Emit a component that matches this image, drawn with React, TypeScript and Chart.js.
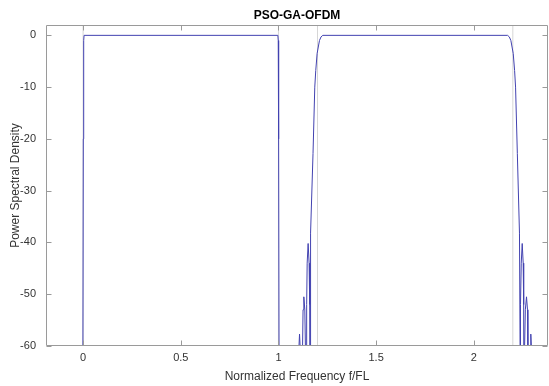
import { useEffect, useRef } from "react";
import { Chart, registerables } from "chart.js";

Chart.register(...registerables);

const chartTitle = "PSO-GA-OFDM";
const xAxisLabel = "Normalized Frequency f/FL";
const yAxisLabel = "Power Spectral Density";
const xTickValues = [0, 0.5, 1, 1.5, 2];
const yTickValues = [-60, -50, -40, -30, -20, -10, 0];
const markerFreqs = [0, 1, 1.2, 2.2];

// Normalized frequency (f/FL) of the PSD trace
const psdFreq = [
  -0.19, -0.003, 0.001, 0.003, 0.005, 0.997, 0.999, 1.001, 1.005,
  1.1, 1.102, 1.104, 1.108, 1.112, 1.115, 1.118,
  1.121, 1.1235, 1.126, 1.13, 1.135, 1.138, 1.141,
  1.142, 1.1445, 1.147, 1.152, 1.157, 1.16, 1.162,
  1.163, 1.166, 1.177, 1.186, 1.191, 1.198, 1.21, 1.218, 1.227,
  2.173, 2.182, 2.19, 2.202, 2.209, 2.214, 2.223, 2.234, 2.237,
  2.238, 2.2405, 2.243, 2.248, 2.253, 2.2555, 2.258,
  2.259, 2.2615, 2.264, 2.27, 2.275, 2.277, 2.279,
  2.282, 2.285, 2.288, 2.292, 2.296, 2.298, 2.3,
  2.38,
];
// PSD in dB
const psdDb = [
  -100, -100, -20, -1, 0, 0, -1, -20, -100,
  -100, -68, -61, -57.7, -61, -68, -100,
  -100, -60, -53, -50.5, -53, -60, -100,
  -100, -52, -44, -40.2, -44, -52, -100,
  -60, -38.2, -22.8, -10, -6.8, -3.5, -1.0, -0.3, 0,
  0, -0.3, -1.0, -3.5, -6.8, -10, -22.8, -38.2, -60,
  -100, -52, -44, -40.2, -44, -52, -100,
  -100, -60, -53, -50.5, -53, -60, -100,
  -100, -68, -61, -57.7, -61, -68, -100,
  -100,
];

const FONT = "'Liberation Sans', Arial, Helvetica, sans-serif";

const inwardTicks = {
  id: "inwardTicks",
  afterDatasetsDraw(chart: any) {
    const { ctx, chartArea: a, scales } = chart;
    ctx.save();
    ctx.strokeStyle = "#9a9a9a";
    ctx.lineWidth = 1;
    const L = Math.round(a.left) + 0.5;
    const R = Math.round(a.right) - 0.5;
    const T = Math.round(a.top) + 0.5;
    const B = Math.round(a.bottom) - 0.5;
    ctx.beginPath();
    ctx.rect(L, T, R - L, B - T);
    for (const v of xTickValues) {
      const px = Math.round(scales.x.getPixelForValue(v)) + 0.5;
      ctx.moveTo(px, B);
      ctx.lineTo(px, B - 5);
      ctx.moveTo(px, T);
      ctx.lineTo(px, T + 5);
    }
    for (const v of yTickValues) {
      const py = Math.round(scales.y.getPixelForValue(v)) + 0.5;
      ctx.moveTo(L, py);
      ctx.lineTo(L + 5, py);
      ctx.moveTo(R, py);
      ctx.lineTo(R - 5, py);
    }
    ctx.stroke();
    ctx.restore();
  },
};

export default function App() {
  const canvasRef = useRef<HTMLCanvasElement | null>(null);

  useEffect(() => {
    document.body.style.margin = "0";
    const canvas = canvasRef.current;
    if (!canvas) return;

    const psdPoints = psdFreq.map((f, i) => ({ x: f, y: psdDb[i] }));
    const markerSets = markerFreqs.map((f) => ({
      data: [
        { x: f, y: -60 },
        { x: f, y: 2 },
      ],
      borderColor: "#d6d6d6",
      borderWidth: 1,
      pointRadius: 0,
      tension: 0,
    }));

    const chart = new Chart(canvas, {
      type: "line",
      data: {
        datasets: [
          {
            data: psdPoints,
            borderColor: "#4242b0",
            borderWidth: 1,
            pointRadius: 0,
            tension: 0,
          },
          ...markerSets,
        ],
      },
      options: {
        responsive: false,
        animation: false,
        layout: { padding: { right: 1, left: 0, top: 0, bottom: 0 } },
        plugins: {
          legend: { display: false },
          tooltip: { enabled: false },
          title: {
            display: true,
            text: chartTitle,
            fullSize: false,
            color: "#000000",
            font: { family: FONT, size: 12, weight: "bold" },
            padding: { top: 8, bottom: 2.6 },
          },
        },
        scales: {
          x: {
            type: "linear",
            min: -0.19,
            max: 2.38,
            grid: { display: false, drawTicks: false },
            border: { display: false },
            afterBuildTicks: (axis: any) => {
              axis.ticks = xTickValues.map((v) => ({ value: v }));
            },
            afterFit: (scale: any) => {
              scale.height = 40;
            },
            ticks: {
              color: "#333333",
              font: { family: FONT, size: 11 },
              padding: 5,
              maxRotation: 0,
              callback: (v: any) => String(v),
            },
            title: {
              display: true,
              text: xAxisLabel,
              color: "#333333",
              font: { family: FONT, size: 12 },
              padding: { top: 0, bottom: 2 },
            },
          },
          y: {
            type: "linear",
            min: -60,
            max: 2,
            grid: { display: false, drawTicks: false },
            border: { display: false },
            afterBuildTicks: (axis: any) => {
              axis.ticks = yTickValues.map((v) => ({ value: v }));
            },
            afterFit: (scale: any) => {
              scale.width = 46;
            },
            ticks: {
              color: "#333333",
              font: { family: FONT, size: 11 },
              padding: 10,
              callback: (v: any) => String(v),
            },
            title: {
              display: true,
              text: yAxisLabel,
              color: "#333333",
              font: { family: FONT, size: 12 },
              padding: { top: 8, bottom: 8, left: 8, right: 8 },
            },
          },
        },
      },
      plugins: [inwardTicks],
    } as any);

    return () => chart.destroy();
  }, []);

  return (
    <div style={{ width: 549, height: 386 }}>
      <canvas ref={canvasRef} width={549} height={386} style={{ display: "block" }} />
    </div>
  );
}
